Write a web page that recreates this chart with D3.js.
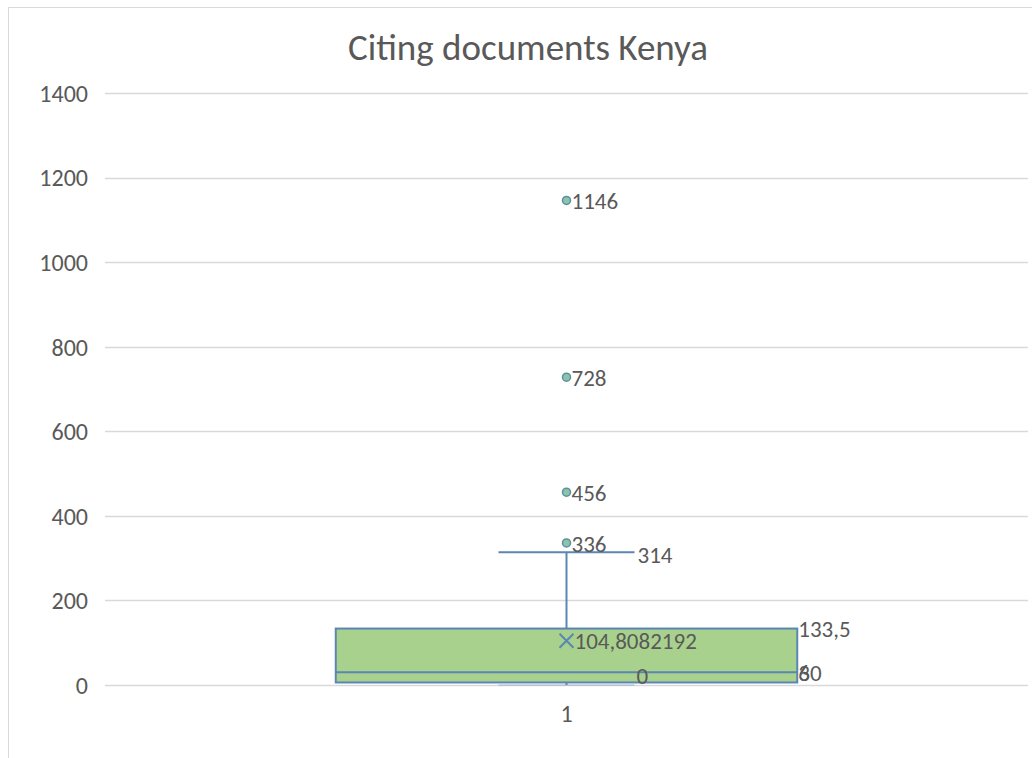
<!DOCTYPE html>
<html>
<head>
<meta charset="utf-8">
<script src="https://cdn.jsdelivr.net/npm/d3@7"></script>
<style>
  body { margin: 0; background: #fff; }
  text { font-family: Carlito, "Liberation Sans Narrow", "Open Sans", sans-serif; fill: #595959; }
</style>
</head>
<body>
<svg id="chart" width="1032" height="758"></svg>
<script>
// box plot data
const categories = ["1"];
const boxStats = [{ min: 0, q1: 6, median: 30, q3: 133.5, max: 314, mean: 104.8082192 }];
const outliers = [336, 456, 728, 1146];
const yTicks = [0, 200, 400, 600, 800, 1000, 1200, 1400];

const svg = d3.select("#chart");
const margin = { top: 93, right: 4, bottom: 73, left: 105 };
const width = 1032 - margin.left - margin.right;
const height = 758 - margin.top - margin.bottom;

// chart frame
svg.append("rect")
    .attr("x", 8.5).attr("y", 7.5)
    .attr("width", 1040).attr("height", 800)
    .style("fill", "none").style("stroke", "#d9d9d9");

svg.append("text")
    .attr("x", 528).attr("y", 60)
    .attr("text-anchor", "middle")
    .style("font-size", "37px")
    .text("Citing documents Kenya");

const g = svg.append("g").attr("transform", "translate(" + margin.left + "," + margin.top + ")");

const x = d3.scaleBand().domain(categories).range([0, width]);
const y = d3.scaleLinear().domain([0, 1400]).range([height, 0]);

// gridlines
g.selectAll(".grid").data(yTicks).enter().append("line")
    .attr("x1", 0).attr("x2", width)
    .attr("y1", d => Math.round(y(d)) + 0.5).attr("y2", d => Math.round(y(d)) + 0.5)
    .style("stroke", "#d9d9d9").style("stroke-width", 1.5);

let yAxis = d3.axisLeft(y).tickValues(yTicks).tickFormat(d3.format("d")).tickSize(0).tickPadding(17);
g.append("g").call(yAxis)
    .call(a => a.select(".domain").remove())
    .selectAll("text").style("font-size", "24px").attr("dy", "0.35em");

let xAxis = d3.axisBottom(x).tickSize(0).tickPadding(20);
g.append("g").attr("transform", "translate(0," + height + ")").call(xAxis)
    .call(a => a.select(".domain").remove())
    .selectAll("text").style("font-size", "24px");

const boxColor = "#5b86b3";
const boxW = x.bandwidth() * 0.5;
const capW = 68;

boxStats.forEach((s, i) => {
    const cx = x(categories[i]) + x.bandwidth() / 2;
    const bx = cx - boxW / 2;

    // whiskers
    g.append("line").attr("x1", cx).attr("x2", cx).attr("y1", y(s.max)).attr("y2", y(s.q3))
        .style("stroke", boxColor).style("stroke-width", 2);
    g.append("line").attr("x1", cx - capW).attr("x2", cx + capW).attr("y1", y(s.max)).attr("y2", y(s.max))
        .style("stroke", boxColor).style("stroke-width", 2);
    g.append("line").attr("x1", cx).attr("x2", cx).attr("y1", y(s.q1)).attr("y2", y(s.min))
        .style("stroke", boxColor).style("stroke-width", 2);
    g.append("line").attr("x1", cx - capW).attr("x2", cx + capW).attr("y1", y(s.min)).attr("y2", y(s.min))
        .style("stroke", boxColor).style("stroke-width", 1).style("opacity", 0.5);

    // box
    g.append("rect")
        .attr("x", bx).attr("y", y(s.q3))
        .attr("width", boxW).attr("height", y(s.q1) - y(s.q3))
        .style("fill", "#a9d18e").style("stroke", boxColor).style("stroke-width", 2);
    g.append("line").attr("x1", bx).attr("x2", bx + boxW).attr("y1", y(s.median)).attr("y2", y(s.median))
        .style("stroke", boxColor).style("stroke-width", 2);

    // mean marker
    const m = 7;
    g.append("path")
        .attr("d", `M${cx - m},${y(s.mean) - m}L${cx + m},${y(s.mean) + m}M${cx - m},${y(s.mean) + m}L${cx + m},${y(s.mean) - m}`)
        .style("stroke", boxColor).style("stroke-width", 2);

    // labels
    const lab = (tx, ty, t) => g.append("text").attr("x", tx).attr("y", ty)
        .attr("dy", "0.35em").style("font-size", "23px").text(t);
    const fmt = v => String(v).replace(".", ",");
    lab(cx + 8, y(s.mean), fmt(s.mean));
    lab(cx + capW + 3, y(s.max) + 3, fmt(s.max));
    lab(bx + boxW + 1, y(s.q3), fmt(s.q3));
    lab(bx + boxW + 1, y(s.median) + 1, fmt(s.median));
    lab(bx + boxW + 1, y(s.median) + 1, fmt(s.q1));
    lab(cx + 70, y(s.min) - 9, fmt(s.min));

    // outliers
    g.selectAll(".out").data(outliers).enter().append("circle")
        .attr("cx", cx).attr("cy", d => y(d)).attr("r", 4)
        .style("fill", "#8cc5a6").style("stroke", "#5a8fa8").style("stroke-width", 1.5);
    g.selectAll(".outlab").data(outliers).enter().append("text")
        .attr("x", cx + 5).attr("y", d => y(d) + 1)
        .attr("dy", "0.35em").style("font-size", "23px")
        .text(d => d);
});
</script>
</body>
</html>
